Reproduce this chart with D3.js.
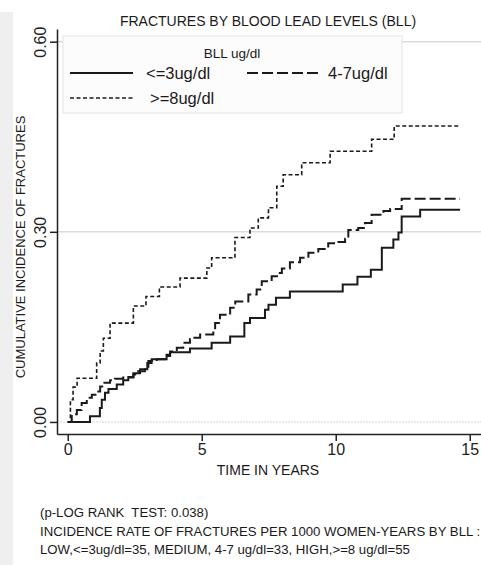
<!DOCTYPE html>
<html>
<head>
<meta charset="utf-8">
<script src="https://cdn.jsdelivr.net/npm/d3@7"></script>
<style>
	body { margin: 0; background: #fff; }
	svg { display: block; font-family: "Liberation Sans", Arial, sans-serif; }
	.axis path, .axis line { stroke: #222; stroke-width: 1.5; }
	.axis text { fill: #222; }
</style>
</head>
<body>
<div class="fractures"></div>
<script>

// cumulative incidence by blood lead level
const lowTime = [0, 0.83, 1.2, 1.27, 1.39, 1.52, 1.83, 2.07, 2.26, 2.45, 2.7, 2.97, 3.13, 3.69, 3.82, 4.56, 5.37, 6.06, 6.59, 6.8, 7.36, 7.49, 7.77, 8.29, 10.26, 10.81, 11.31, 11.72, 12.15, 12.34, 12.46, 13.15, 14.64];
const lowInc = [0, 0.009, 0.022, 0.035, 0.046, 0.052, 0.059, 0.066, 0.071, 0.077, 0.083, 0.093, 0.099, 0.104, 0.110, 0.116, 0.125, 0.135, 0.156, 0.164, 0.177, 0.185, 0.196, 0.206, 0.217, 0.229, 0.240, 0.275, 0.288, 0.299, 0.324, 0.335, 0.335];

const midTime = [0, 0.15, 0.34, 0.52, 0.71, 0.9, 1.08, 1.21, 1.33, 1.58, 1.76, 2.07, 2.45, 2.63, 2.88, 3.01, 3.32, 3.69, 3.82, 4.07, 4.31, 4.56, 4.94, 5.43, 5.5, 5.68, 6.06, 6.25, 6.74, 7.05, 7.24, 7.61, 7.86, 7.99, 8.29, 8.67, 8.98, 9.35, 9.72, 10.1, 10.35, 10.47, 10.84, 11.09, 11.34, 11.78, 12.03, 12.46, 14.64];
const midInc = [0, 0.012, 0.019, 0.030, 0.038, 0.043, 0.048, 0.056, 0.062, 0.066, 0.068, 0.070, 0.075, 0.080, 0.085, 0.096, 0.099, 0.106, 0.111, 0.117, 0.125, 0.133, 0.138, 0.141, 0.156, 0.169, 0.180, 0.190, 0.201, 0.209, 0.222, 0.230, 0.235, 0.242, 0.252, 0.259, 0.267, 0.273, 0.282, 0.284, 0.289, 0.303, 0.306, 0.314, 0.327, 0.333, 0.336, 0.352, 0.352];

const highTime = [0, 0.1, 0.2, 0.35, 1.08, 1.21, 1.33, 1.58, 2.45, 2.92, 3.42, 4.19, 5.19, 5.37, 6.24, 6.8, 7.11, 7.49, 7.8, 8.04, 8.73, 9.79, 11.34, 12.18, 14.64];
const highInc = [0, 0.035, 0.055, 0.069, 0.093, 0.112, 0.132, 0.156, 0.183, 0.198, 0.213, 0.227, 0.243, 0.259, 0.291, 0.306, 0.322, 0.338, 0.372, 0.390, 0.409, 0.427, 0.446, 0.467, 0.467];

const groups = ["<=3ug/dl", "4-7ug/dl", ">=8ug/dl"];
const xTicks = [0, 5, 10, 15];
const yTicks = [0, 0.3, 0.6];
const notes = [
	"(p-LOG RANK  TEST: 0.038)",
	"INCIDENCE RATE OF FRACTURES PER 1000 WOMEN-YEARS BY BLL :",
	"LOW,<=3ug/dl=35, MEDIUM, 4-7 ug/dl=33, HIGH,>=8 ug/dl=55"
];

const series = [
	{ name: groups[0], dash: null, width: 2, values: lowTime.map((t, i) => ({ t: t, v: lowInc[i] })) },
	{ name: groups[1], dash: "11,4", width: 2, values: midTime.map((t, i) => ({ t: t, v: midInc[i] })) },
	{ name: groups[2], dash: "4,2.5", width: 1.6, values: highTime.map((t, i) => ({ t: t, v: highInc[i] })) }
];

const width = 481;
const height = 565;
const ink = "#1a1a1a";

const x = d3.scaleLinear().domain([-0.4, 15.42]).range([57, 481]);
const y = d3.scaleLinear().domain([-0.019, 0.62]).range([434, 29]);

const svg = d3.select(".fractures")
	.append("svg")
		.attr("width", width)
		.attr("height", height);

// grey strip on the left edge
svg.append("rect")
	.attr("x", 0)
	.attr("y", 12)
	.attr("width", 13)
	.attr("height", height - 12)
	.attr("fill", "#efefef");

// gridlines
svg.append("g")
	.selectAll("line")
		.data(yTicks).enter()
	.append("line")
		.attr("x1", x.range()[0])
		.attr("x2", x.range()[1])
		.attr("y1", (d) => y(d))
		.attr("y2", (d) => y(d))
		.attr("stroke", (d) => d === 0 ? "#d6d6d6" : "#dcdcdc")
		.attr("stroke-width", (d) => d === 0 ? 1 : 1.5)
		.attr("stroke-dasharray", (d) => d === 0 ? "2,1" : null);

// axes
const yAxis = d3.axisLeft(y)
	.tickValues(yTicks)
	.tickFormat(d3.format(".2f"))
	.tickSizeInner(7)
	.tickSizeOuter(0);

const yg = svg.append("g")
	.attr("class", "axis")
	.attr("transform", `translate(${x.range()[0]},0)`)
	.call(yAxis);

yg.selectAll("text")
	.attr("transform", "rotate(-90)")
	.attr("x", 0)
	.attr("y", -11)
	.attr("dy", 0)
	.attr("text-anchor", "middle")
	.attr("font-size", 16);

const xAxis = d3.axisBottom(x)
	.tickValues(xTicks)
	.tickSizeInner(7)
	.tickSizeOuter(0);

svg.append("g")
	.attr("class", "axis")
	.attr("transform", `translate(0,${y.range()[0]})`)
	.call(xAxis)
	.selectAll("text")
		.attr("y", 10)
		.attr("font-size", 16);

// curves
const line = d3.line()
	.curve(d3.curveStepAfter)
	.x((d) => x(d.t))
	.y((d) => y(d.v));

svg.append("g")
	.selectAll("path")
		.data(series).enter()
	.append("path")
		.attr("d", (d) => line(d.values))
		.attr("fill", "none")
		.attr("stroke", ink)
		.attr("stroke-width", (d) => d.width)
		.attr("stroke-dasharray", (d) => d.dash);

// legend
const legend = svg.append("g").attr("transform", "translate(63,36)");

legend.append("rect")
	.attr("width", 339)
	.attr("height", 77)
	.attr("fill", "#fcfcfc")
	.attr("stroke", "#e4e4e4");

legend.append("text")
	.attr("x", 169)
	.attr("y", 22)
	.attr("text-anchor", "middle")
	.attr("font-size", 13.5)
	.attr("fill", ink)
	.text("BLL ug/dl");

const slots = [[7, 37], [184, 37], [7, 62]];
const items = legend.selectAll(".item")
	.data(series).enter()
	.append("g")
		.attr("class", "item")
		.attr("transform", (d, i) => `translate(${slots[i][0]},${slots[i][1]})`);

items.append("line")
	.attr("x1", 0)
	.attr("x2", (d, i) => i === 1 ? 71 : 63)
	.attr("stroke", ink)
	.attr("stroke-width", (d) => d.width)
	.attr("stroke-dasharray", (d) => d.dash);

items.append("text")
	.attr("x", (d, i) => i === 0 ? 76 : i === 1 ? 81 : 80)
	.attr("y", 6)
	.attr("font-size", 16.5)
	.attr("fill", ink)
	.text((d) => d.name);

// titles
svg.append("text")
	.attr("x", 268)
	.attr("y", 26)
	.attr("text-anchor", "middle")
	.attr("font-size", 14)
	.attr("fill", ink)
	.text("FRACTURES BY BLOOD LEAD LEVELS (BLL)");

svg.append("text")
	.attr("transform", "translate(25,247) rotate(-90)")
	.attr("text-anchor", "middle")
	.attr("font-size", 13)
	.attr("fill", ink)
	.text("CUMULATIVE INCIDENCE OF FRACTURES");

svg.append("text")
	.attr("x", 268)
	.attr("y", 475)
	.attr("text-anchor", "middle")
	.attr("font-size", 14)
	.attr("fill", ink)
	.text("TIME IN YEARS");

svg.append("g")
	.selectAll("text")
		.data(notes).enter()
	.append("text")
		.attr("x", 40)
		.attr("y", (d, i) => 517 + i * 18.5)
		.attr("font-size", 13.2)
		.attr("fill", ink)
		.attr("xml:space", "preserve")
		.style("white-space", "pre")
		.text((d) => d);

</script>
</body>
</html>
